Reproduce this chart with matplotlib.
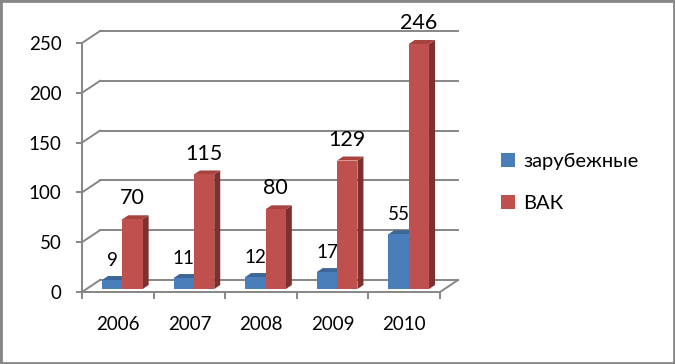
import matplotlib.pyplot as plt
from matplotlib.patches import Polygon, Rectangle, Patch

years = ["2006", "2007", "2008", "2009", "2010"]
foreign = [9, 11, 12, 17, 55]
vak = [70, 115, 80, 129, 246]
series_names = ["зарубежные", "ВАК"]
yticks = [0, 50, 100, 150, 200, 250]

plt.rcParams["font.family"] = ["Lato", "Open Sans", "DejaVu Sans"]

GRID = "#868686"
FRONT = ["#4A7EBB", "#C0504D"]
TOP = ["#3C6696", "#A8423F"]
SIDE = ["#2E5078", "#7E302E"]

# pixel -> data scale of the front plane
PX_X = 358 / 5.0
PX_Y = 249 / 250.0

back_dx, back_dy = 18 / PX_X, 12 / PX_Y   # back wall depth
bar_dx, bar_dy = 4.5 / PX_X, 3 / PX_Y     # bar front face depth
dep_dx, dep_dy = 6 / PX_X, 4 / PX_Y       # bar thickness
width = 0.284

fig = plt.figure(figsize=(6.75, 3.64), dpi=100)
ax = fig.add_axes([82 / 675, 72 / 364, 358 / 675, 249 / 364])
ax.set_xlim(-0.5, len(years) - 0.5)
ax.set_ylim(0, 250)
ax.patch.set_visible(False)
for s in ["top", "right"]:
    ax.spines[s].set_visible(False)
for s in ["left", "bottom"]:
    ax.spines[s].set_color(GRID)
    ax.spines[s].set_linewidth(1.4)

x0, x1 = -0.5, len(years) - 0.5
# back wall gridlines + left wall diagonals
for v in yticks:
    ax.plot([x0 + back_dx, x1 + back_dx], [v + back_dy, v + back_dy],
            color=GRID, lw=1.4, clip_on=False, zorder=1)
    ax.plot([x0, x0 + back_dx], [v, v + back_dy], color=GRID, lw=1.4,
            clip_on=False, zorder=1)
ax.plot([x1, x1 + back_dx], [0, back_dy], color=GRID, lw=1.4, clip_on=False, zorder=1)

# 3d-ish bars
for i in range(len(years)):
    for k, vals in enumerate([foreign, vak]):
        h = vals[i]
        l = i - width + k * width + bar_dx
        r = l + width
        b = bar_dy
        t = h + bar_dy
        z = 3 + i * 2 + k
        ax.add_patch(Polygon([(r, b), (r, t), (r + dep_dx, t + dep_dy), (r + dep_dx, b + dep_dy)],
                             closed=True, fc=SIDE[k], ec="none", clip_on=False, zorder=z))
        ax.add_patch(Polygon([(l, t), (r, t), (r + dep_dx, t + dep_dy), (l + dep_dx, t + dep_dy)],
                             closed=True, fc=TOP[k], ec="none", clip_on=False, zorder=z))
        ax.add_patch(Rectangle((l, b), width, h, fc=FRONT[k], ec="none",
                               clip_on=False, zorder=z))
        if k == 0:
            ax.text((l + r) / 2, t + dep_dy + 10, str(h), ha="center", va="baseline",
                    fontsize=13.5, color="black", zorder=20)
        else:
            ax.text((l + r) / 2, t + dep_dy + 11, str(h), ha="center", va="baseline",
                    fontsize=15.5, color="black", zorder=20)

ax.set_yticks(yticks)
ax.set_yticklabels([str(v) for v in yticks], fontsize=13.5)
ax.tick_params(axis="y", length=4.3, width=1.4, color=GRID, pad=10.5)

ax.set_xticks([x - 0.5 for x in range(len(years) + 1)])
ax.set_xticklabels([])
ax.set_xticks(range(len(years)), minor=True)
ax.set_xticklabels(years, minor=True, fontsize=13.5)
ax.tick_params(axis="x", which="major", length=5, width=1.4, color=GRID)
ax.tick_params(axis="x", which="minor", length=0, pad=17.5)

handles = [Patch(fc=FRONT[0], ec="none"), Patch(fc=FRONT[1], ec="none")]
fig.legend(handles, series_names, loc="center left", bbox_to_anchor=(501 / 675, 181.5 / 364),
           frameon=False, fontsize=14.5, handlelength=0.7, handleheight=0.7,
           handletextpad=0.4, labelspacing=1.2, borderpad=0, borderaxespad=0)

fig.patches.append(Rectangle((0, 0), 1, 1, transform=fig.transFigure, fill=False,
                             ec=GRID, lw=3.4, zorder=0))

fig.savefig("out.png", dpi=100)
